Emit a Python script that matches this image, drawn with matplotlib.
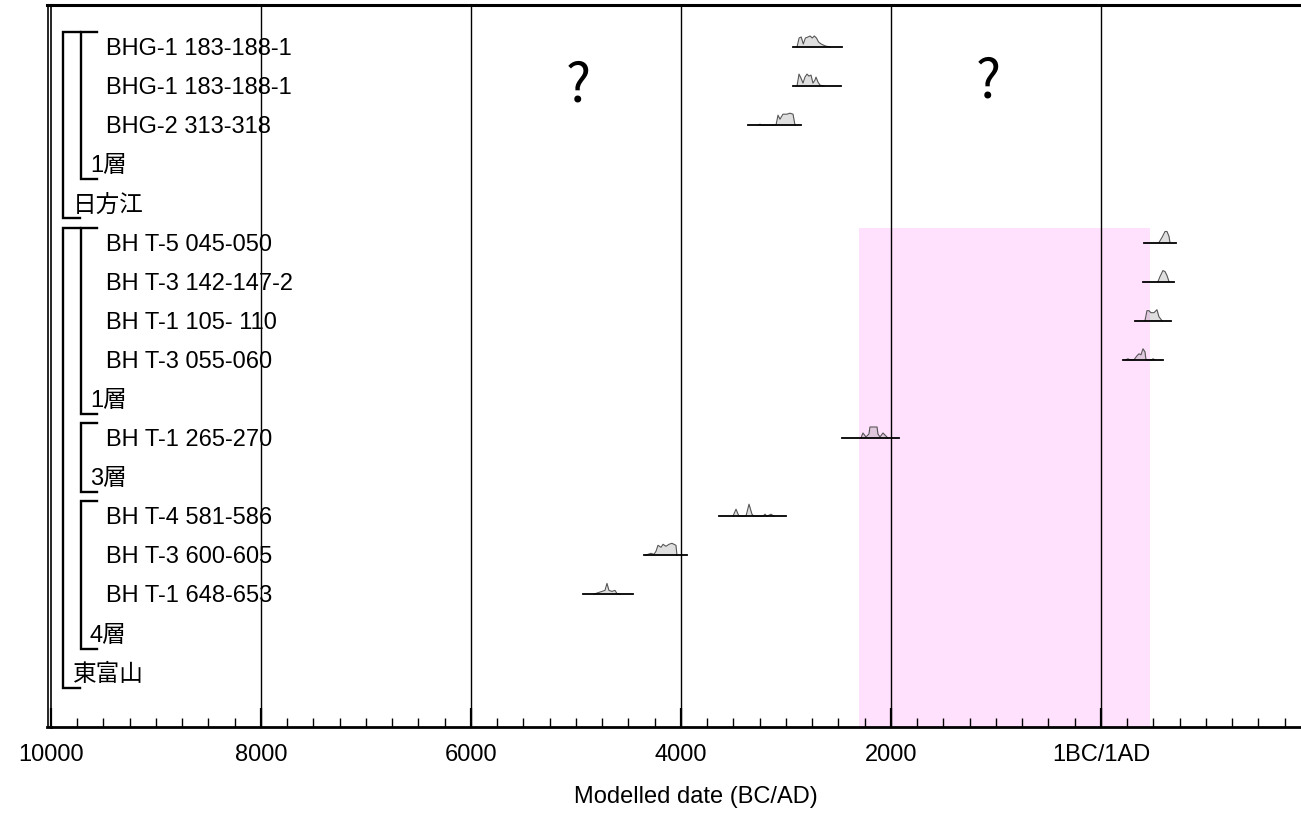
import matplotlib
matplotlib.use("Agg")
import matplotlib.pyplot as plt
from matplotlib.lines import Line2D
from matplotlib.transforms import IdentityTransform, blended_transform_factory

plt.rcParams['font.family'] = ['Liberation Sans', 'Noto Sans CJK JP', 'DejaVu Sans']

# ---------------------------------------------------------------- data
row_labels = ["BHG-1 183-188-1", "BHG-1 183-188-1", "BHG-2 313-318", "1層", "日方江",
              "BH T-5 045-050", "BH T-3 142-147-2", "BH T-1 105- 110", "BH T-3 055-060", "1層",
              "BH T-1 265-270", "3層", "BH T-4 581-586", "BH T-3 600-605", "BH T-1 648-653",
              "4層", "東富山"]
# 0 = sequence, 1 = phase, 2 = sample
row_levels = [2, 2, 2, 1, 0, 2, 2, 2, 2, 1, 2, 1, 2, 2, 2, 1, 0]

# phases and sequences as (first row, last row)
phase_rows = [(0, 3), (5, 9), (10, 11), (12, 15)]
sequence_rows = [(0, 4), (5, 16)]

# modelled ranges (calendar year, negative = BC)
sample_rows = [0, 1, 2, 5, 6, 7, 8, 10, 12, 13, 14]
range_start = [-2930, -2930, -3362, 410, 400, 324, 210, -2467, -3638, -4352, -4933]
range_end = [-2465, -2474, -2857, 714, 695, 667, 590, -1924, -3000, -3943, -4457]

# posterior densities (year, relative height)
dens_years = [
    [-2895, -2875, -2855, -2835, -2815, -2790, -2770, -2750, -2730, -2710, -2690, -2665, -2625, -2580],
    [-2895, -2876, -2857, -2838, -2819, -2800, -2781, -2762, -2743, -2724, -2714, -2695, -2676, -2638],
    [-3267, -3248, -3229, -3095, -3076, -3057, -3029, -2990, -2962, -2933, -2914],
    [552, 581, 610, 629, 648, 657],
    [543, 562, 590, 610, 629, 648],
    [419, 438, 457, 476, 505, 533, 552, 581],
    [238, 257, 276, 314, 343, 362, 381, 400, 419, 429, 486, 495, 514],
    [-2286, -2267, -2238, -2210, -2200, -2133, -2124, -2105, -2076, -2048, -2029],
    [-3505, -3476, -3448, -3381, -3352, -3324, -3305, -3219, -3200, -3181, -3162, -3143, -3114],
    [-4333, -4314, -4286, -4257, -4238, -4219, -4190, -4171, -4143, -4114, -4086, -4067, -4048, -4038],
    [-4829, -4810, -4781, -4752, -4724, -4705, -4686, -4657, -4629, -4610, -4581],
]
dens_heights = [
    [0, 9, 10, 3, 9, 10, 11, 9, 11, 9, 5, 3, 1, 0],
    [0, 12, 8, 3, 9, 12, 10, 11, 3, 6, 9, 4, 1, 0],
    [0, 1, 0, 0, 10, 6, 11, 11, 12, 11, 0],
    [0, 5, 11, 11, 6, 0],
    [0, 5, 11, 10, 6, 0],
    [0, 10, 10, 8, 8, 11, 4, 0],
    [0, 1, 0, 0, 4, 6, 5, 11, 8, 0, 0, 1, 0],
    [0, 5, 1, 4, 11, 11, 4, 1, 5, 2, 0],
    [0, 7, 0, 0, 12, 2, 0, 0, 2, 0, 1, 2, 0],
    [0, 1, 2, 1, 4, 10, 8, 11, 9, 11, 12, 11, 10, 0],
    [0, 1, 2, 3, 4, 11, 4, 3, 4, 1, 0],
]

# highlighted period and question marks
band_start, band_end = -2300, 470
band_first_row = 5
question_x = [-4980, -1075]
question_row = [0.95, 0.85]

major_ticks = [-10000, -8000, -6000, -4000, -2000, 0]
major_labels = ["10000", "8000", "6000", "4000", "2000", "1BC/1AD"]
grid_years = [-8000, -6000, -4000, -2000, 0]

# ---------------------------------------------------------------- layout
W, H = 1301, 816
fig = plt.figure(figsize=(W / 100, H / 100), dpi=100)
ax_left, ax_top, ax_bottom = 51, 5, 727
ax = fig.add_axes([ax_left / W, 1 - ax_bottom / H, (W - ax_left) / W, (ax_bottom - ax_top) / H])

row0_px, row_px = 49.0, 39.1
def py_to_row(py):
    return (py - row0_px) / row_px

ax.set_xlim(-10000, 1905)
ax.set_ylim(py_to_row(ax_bottom), py_to_row(ax_top))

ax.spines["right"].set_visible(False)
ax.spines["top"].set_linewidth(2.2)
ax.spines["bottom"].set_linewidth(2.0)
ax.spines["left"].set_linewidth(1.2)

ax.set_yticks([])
ax.set_xticks(major_ticks)
ax.set_xticklabels(major_labels, fontsize=17)
ax.set_xticks(list(range(-10000, 1906, 250)), minor=True)
ax.tick_params(axis="x", which="major", direction="in", length=14, width=1.6, pad=12)
ax.tick_params(axis="x", which="minor", direction="in", length=6.5, width=1.0)

# highlighted band
band_top = band_first_row - 17 / row_px
ax.fill_between([band_start, band_end], band_top, py_to_row(ax_bottom) + 1,
                color="#ffe0fd", lw=0, zorder=0)

# vertical grid
ax.vlines(grid_years, py_to_row(ax_top) - 1, py_to_row(ax_bottom) + 1,
          color="black", lw=1.0, zorder=1)

# distributions
base_off = 2 / row_px
h_scale = 1 / row_px
for r, xs, xe, yrs, hs in zip(sample_rows, range_start, range_end, dens_years, dens_heights):
    base = r - base_off
    top = [base - h * h_scale for h in hs]
    ax.fill_between(yrs, base, top, color="#808080", alpha=0.25, lw=0, zorder=2)
    ax.plot(yrs, top, color="#555555", lw=0.8, zorder=3)
    ax.plot([xs, xe], [base, base], color="black", lw=1.3, zorder=4)

# labels and brackets (x in pixels)
tr = blended_transform_factory(IdentityTransform(), ax.transData)
label_px = {0: 73, 1: 90, 2: 106}
for i, (lab, lev) in enumerate(zip(row_labels, row_levels)):
    ax.text(label_px[lev], i, lab, transform=tr, fontsize=17, va="center", ha="left", zorder=5)

top_off = 17 / row_px
bot_off = 13 / row_px
def bracket(first, last, x0, x1, y_bot_off):
    yt = first - top_off
    yb = last + y_bot_off
    ax.plot([x1, x0, x0, x1], [yt, yt, yb, yb], transform=tr, color="black",
            lw=1.7, solid_joinstyle="miter", clip_on=False, zorder=5)

for first, last in phase_rows:
    bracket(first, last, 81, 97, bot_off)
for first, last in sequence_rows:
    bracket(first, last, 63, 80, bot_off)

for qx, qr in zip(question_x, question_row):
    ax.text(qx, qr, "?", fontsize=38, family=["Noto Sans CJK JP", "DejaVu Sans"],
            ha="center", va="center", zorder=5)

# outer frame line on the left, joined to top and bottom axis lines
pix = IdentityTransform()
fig.add_artist(Line2D([47.5, 47.5], [H - ax_top, H - ax_bottom], transform=pix, color="black", lw=1.2))
fig.add_artist(Line2D([47, ax_left], [H - ax_top, H - ax_top], transform=pix, color="black", lw=2.2))
fig.add_artist(Line2D([47, ax_left], [H - ax_bottom, H - ax_bottom], transform=pix, color="black", lw=2.0))

fig.text(696 / W, 1 - 797 / H, "Modelled date (BC/AD)", fontsize=17, ha="center", va="center")

fig.savefig("out.png", dpi=100)
